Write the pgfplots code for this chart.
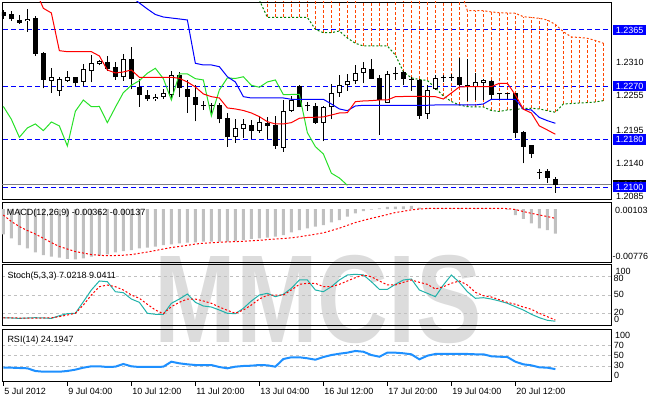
\documentclass[border=0pt]{standalone}
\usepackage{graphicx}
\usepackage{pgfplots}
\pgfplotsset{compat=1.18}
\usepackage{pgfplotstable}
\usepackage{fontspec}
\setmainfont{Liberation Sans}
\newcommand{\lbl}{\fontsize{9}{10}\selectfont}
\definecolor{mtsilver}{HTML}{C0C0C0}
\definecolor{mtsea}{HTML}{20B2AA}
\definecolor{mtdodger}{HTML}{1E90FF}
\definecolor{mtlime}{RGB}{40,225,40}
\definecolor{mtorange}{HTML}{FF4500}
\definecolor{mtgreen}{HTML}{008000}
\definecolor{mtblue}{HTML}{0000FF}
\definecolor{wmgray}{HTML}{DCDCDC}

\pgfplotstableread{
i O H L C
0 1.23954 1.23987 1.23836 1.23886
1 1.23920 1.23965 1.23807 1.23830
2 1.23819 1.23903 1.23751 1.23773
4 1.23847 1.23886 1.23217 1.23245
5 1.23262 1.23279 1.22667 1.22807
9 1.22852 1.22852 1.22706 1.22751
13 1.23110 1.23212 1.22954 1.22997
14 1.23021 1.23110 1.22807 1.22852
16 1.23156 1.23368 1.22650 1.22819
17 1.22684 1.22829 1.22356 1.22559
18 1.22549 1.22638 1.22458 1.22481
22 1.22896 1.22947 1.22525 1.22672
23 1.22660 1.22807 1.22255 1.22525
24 1.22525 1.22717 1.22110 1.22390
25 1.22377 1.22448 1.22301 1.22360
26 1.22377 1.22424 1.22245 1.22360
27 1.22380 1.22414 1.22076 1.22144
28 1.22166 1.22245 1.21682 1.21840
31 1.22053 1.22132 1.21817 1.21952
33 1.22076 1.22188 1.21807 1.22031
34 1.22053 1.22200 1.21648 1.21694
37 1.22706 1.22728 1.22346 1.22356
38 1.22377 1.22436 1.22289 1.22360
39 1.22368 1.22414 1.22065 1.22087
46 1.22987 1.23156 1.22819 1.22829
47 1.22835 1.22886 1.21884 1.22469
49 1.22925 1.23021 1.22807 1.22903
50 1.22947 1.22964 1.22717 1.22829
51 1.22829 1.22862 1.22626 1.22807
52 1.22807 1.22829 1.22154 1.22200
55 1.22849 1.22886 1.22773 1.22832
56 1.22861 1.22908 1.22795 1.22844
57 1.22852 1.23178 1.22706 1.22717
58 1.22717 1.23166 1.22458 1.22684
61 1.22795 1.22807 1.22469 1.22559
62 1.22579 1.22593 1.22469 1.22562
63 1.22579 1.22593 1.22469 1.22562
64 1.22587 1.22593 1.21829 1.21918
65 1.21930 1.21942 1.21402 1.21682
66 1.21705 1.21705 1.21491 1.21559
67 1.21252 1.21311 1.21142 1.21235
68 1.21267 1.21301 1.21065 1.21154
69 1.21132 1.21176 1.20906 1.21031
}\bears

\pgfplotstableread{
i O H L C
3 1.23797 1.23999 1.23621 1.23836
6 1.22795 1.23004 1.22593 1.22852
7 1.22626 1.22862 1.22542 1.22819
8 1.22795 1.22959 1.22778 1.22852
10 1.22773 1.23072 1.22706 1.22987
11 1.22954 1.23228 1.22768 1.23088
12 1.23072 1.23144 1.23055 1.23122
15 1.22852 1.23245 1.22795 1.23156
19 1.22481 1.22571 1.22448 1.22525
20 1.22525 1.22660 1.22491 1.22582
21 1.22549 1.22959 1.22469 1.22886
29 1.21840 1.22144 1.21749 1.21997
30 1.21985 1.22154 1.21829 1.22065
32 1.21942 1.22200 1.21918 1.22098
35 1.21660 1.22469 1.21592 1.22279
36 1.22289 1.22537 1.22267 1.22469
40 1.22087 1.22368 1.21773 1.22346
41 1.22346 1.22739 1.22144 1.22593
42 1.22582 1.22886 1.22525 1.22717
43 1.22717 1.22908 1.22626 1.22795
44 1.22785 1.23065 1.22739 1.22920
45 1.22930 1.23110 1.22751 1.23004
48 1.22424 1.22964 1.22424 1.22908
53 1.22233 1.22717 1.22154 1.22638
54 1.22650 1.22896 1.22638 1.22841
59 1.22684 1.22930 1.22469 1.22773
60 1.22761 1.22829 1.22469 1.22807
}\bulls

\pgfplotstableread{
i v
4 1.24325
5 1.24016
6 1.23937
7 1.23301
8 1.23284
9 1.23284
10 1.23284
11 1.23284
12 1.23212
13 1.22975
14 1.22925
15 1.22942
16 1.22975
17 1.22852
18 1.22852
19 1.22852
20 1.22852
21 1.22852
22 1.22835
23 1.22773
24 1.22689
25 1.22571
26 1.22525
27 1.22503
28 1.22335
29 1.22318
30 1.22292
31 1.22250
32 1.22188
33 1.22103
34 1.22065
35 1.22065
36 1.22087
37 1.22161
38 1.22174
39 1.22178
40 1.22183
41 1.22216
42 1.22250
43 1.22255
44 1.22441
45 1.22453
46 1.22458
47 1.22469
48 1.22469
49 1.22525
50 1.22528
51 1.22528
52 1.22528
53 1.22528
54 1.22525
55 1.22486
56 1.22587
57 1.22689
58 1.22694
59 1.22694
60 1.22694
61 1.22694
62 1.22751
63 1.22751
64 1.22554
65 1.22313
66 1.22250
67 1.22031
68 1.21963
69 1.21891
}\tenkan

\pgfplotstableread{
i v
16 1.24207
17 1.24105
18 1.24004
19 1.23911
20 1.23869
21 1.23852
22 1.23836
23 1.23819
24 1.23088
25 1.23060
26 1.23060
27 1.23031
28 1.22862
29 1.22773
30 1.22525
31 1.22503
32 1.22503
33 1.22503
34 1.22503
35 1.22503
36 1.22481
37 1.22481
38 1.22481
39 1.22481
40 1.22481
41 1.22402
42 1.22318
43 1.22289
44 1.22368
45 1.22380
46 1.22380
47 1.22380
48 1.22380
49 1.22380
50 1.22380
51 1.22380
52 1.22380
53 1.22380
54 1.22385
55 1.22385
56 1.22385
57 1.22385
58 1.22385
59 1.22385
60 1.22402
61 1.22481
62 1.22481
63 1.22481
64 1.22481
65 1.22313
66 1.22301
67 1.22174
68 1.22120
69 1.22076
}\kijun

\pgfplotstableread{
i v
0 1.22360
1 1.22144
2 1.21840
3 1.21997
4 1.22065
5 1.21952
6 1.22098
7 1.22031
8 1.21694
9 1.22279
10 1.22469
11 1.22356
12 1.22360
13 1.22087
14 1.22346
15 1.22593
16 1.22717
17 1.22795
18 1.22920
19 1.23004
20 1.22829
21 1.22469
22 1.22908
23 1.22910
24 1.22829
25 1.22807
26 1.22200
27 1.22638
28 1.22841
29 1.22832
30 1.22861
31 1.22717
32 1.22684
33 1.22773
34 1.22807
35 1.22559
36 1.22562
37 1.22562
38 1.21918
39 1.21682
40 1.21559
41 1.21235
42 1.21154
43 1.21031
}\chikou

\pgfplotstableread{
i lo hi
32 1.24156 1.24300
33 1.23861 1.24300
34 1.23861 1.24300
35 1.23861 1.24300
36 1.23861 1.24300
37 1.23861 1.24300
38 1.23861 1.24300
39 1.23662 1.24300
40 1.23604 1.24300
41 1.23604 1.24300
42 1.23633 1.24300
43 1.23515 1.24300
44 1.23426 1.24300
45 1.23380 1.24300
46 1.23380 1.24300
47 1.23380 1.24300
48 1.23380 1.24300
49 1.23228 1.24300
50 1.22947 1.24300
51 1.22841 1.24300
52 1.22815 1.24300
53 1.22798 1.24300
54 1.22672 1.24300
55 1.22537 1.24300
56 1.22444 1.24300
57 1.22385 1.24392
58 1.22356 1.23976
59 1.22351 1.23976
60 1.22351 1.23976
61 1.22292 1.23954
62 1.22275 1.23942
63 1.22301 1.23937
64 1.22309 1.23932
65 1.22326 1.23874
66 1.22330 1.23861
67 1.22318 1.23847
68 1.22289 1.23819
69 1.22262 1.23743
70 1.22402 1.23621
71 1.22410 1.23532
72 1.22419 1.23524
73 1.22424 1.23510
74 1.22436 1.23473
75 1.22458 1.23426
}\cloud

\pgfplotstableread{
i m s
0 -0.00371 -0.00088
1 -0.00429 -0.00183
2 -0.00527 -0.00256
3 -0.00576 -0.00315
4 -0.00634 -0.00366
5 -0.00674 -0.00429
6 -0.00699 -0.00491
7 -0.00713 -0.00549
8 -0.00732 -0.00586
9 -0.00737 -0.00623
10 -0.00722 -0.00645
11 -0.00699 -0.00667
12 -0.00684 -0.00678
13 -0.00664 -0.00684
14 -0.00634 -0.00681
15 -0.00615 -0.00677
16 -0.00601 -0.00667
17 -0.00576 -0.00649
18 -0.00567 -0.00630
19 -0.00552 -0.00608
20 -0.00527 -0.00586
21 -0.00517 -0.00564
22 -0.00502 -0.00549
23 -0.00494 -0.00532
24 -0.00488 -0.00513
25 -0.00479 -0.00501
26 -0.00479 -0.00494
27 -0.00479 -0.00486
28 -0.00479 -0.00482
29 -0.00469 -0.00478
30 -0.00454 -0.00472
31 -0.00439 -0.00466
32 -0.00429 -0.00459
33 -0.00420 -0.00448
34 -0.00406 -0.00439
35 -0.00381 -0.00432
36 -0.00341 -0.00422
37 -0.00308 -0.00407
38 -0.00283 -0.00388
39 -0.00259 -0.00369
40 -0.00234 -0.00349
41 -0.00195 -0.00315
42 -0.00161 -0.00281
43 -0.00113 -0.00239
44 -0.00063 -0.00198
45 -0.00030 -0.00166
46 -0.00010 -0.00136
47 0.00010 -0.00110
48 0.00030 -0.00081
49 0.00035 -0.00051
50 0.00040 -0.00034
51 0.00045 -0.00012
52 0.00020 0.00000
53 0.00010 0.00009
54 0.00008 0.00010
55 0.00008 0.00010
56 0.00010 0.00010
57 0.00012 0.00010
58 0.00010 0.00010
59 0.00008 0.00010
60 0.00008 0.00010
61 0.00005 0.00010
62 0.00002 0.00010
63 -0.00010 0.00007
64 -0.00088 -0.00007
65 -0.00146 -0.00037
66 -0.00210 -0.00063
67 -0.00283 -0.00088
68 -0.00308 -0.00110
69 -0.00362 -0.00137
}\macd

\pgfplotstableread{
i k d
0 12.8 12.5
1 12.3 12.5
2 11.7 12.3
3 12.3 12.2
4 12.8 12.3
5 12.3 12.3
6 11.7 12.5
7 16.1 14.5
8 19.4 17.2
9 20.0 20.0
10 39.0 33.6
11 58.2 50.0
12 73.0 63.6
13 71.8 66.4
14 55.4 63.6
15 53.8 58.2
16 43.4 50.0
17 38.0 44.6
18 20.0 34.8
19 18.4 25.4
20 18.4 19.4
21 36.4 30.8
22 43.4 38.0
23 51.6 43.4
24 38.0 43.4
25 32.0 40.2
26 30.3 36.4
27 25.4 30.3
28 20.0 24.9
29 19.4 20.0
30 28.2 25.4
31 40.2 33.6
32 50.0 43.4
33 52.8 50.0
34 47.2 50.0
35 51.1 50.0
36 61.0 58.2
37 74.6 67.5
38 74.6 69.2
39 58.2 69.2
40 55.4 63.6
41 63.6 63.6
42 74.6 67.5
43 82.8 73.0
44 83.9 78.4
45 83.0 82.8
46 71.8 80.0
47 59.3 73.0
48 59.3 66.4
49 67.5 66.4
50 74.6 70.8
51 76.2 74.6
52 58.2 70.8
53 52.8 67.5
54 47.2 59.8
55 66.4 63.6
56 82.8 69.2
57 70.8 73.0
58 55.4 66.4
59 44.6 54.4
60 45.6 48.9
61 43.4 46.7
62 40.2 42.3
63 36.4 38.0
64 30.8 34.8
65 25.4 30.3
66 18.4 26.6
67 12.8 20.0
68 8.5 14.4
69 7.0218 9.0411
}\stoch

\pgfplotstableread{
i r
0 26.9
1 26.9
2 26.3
3 25.7
4 20.6
5 19.2
6 19.2
7 19.2
8 20.6
9 23.1
10 26.9
11 29.5
12 29.5
13 28.2
14 28.8
15 33.9
16 29.5
17 28.2
18 28.2
19 28.2
20 28.8
21 38.3
22 35.2
23 33.3
24 32.0
25 32.0
26 32.0
27 28.2
28 25.7
29 28.8
30 30.1
31 30.7
32 32.0
33 31.4
34 28.8
35 43.4
36 46.7
37 46.7
38 44.8
39 42.1
40 47.2
41 51.0
42 53.5
43 55.5
44 58.7
45 57.3
46 51.0
47 47.8
48 55.5
49 55.5
50 54.3
51 52.4
52 42.8
53 49.7
54 53.0
55 53.0
56 53.0
57 53.0
58 53.0
59 52.4
60 52.4
61 48.6
62 47.8
63 47.2
64 38.3
65 33.3
66 31.4
67 27.6
68 26.9
69 24.1947
}\rsi

\pgfplotsset{
  mtpanel/.style={
    scale only axis, anchor=north west, width=609pt,
    xmin=-0.17, xmax=75.955,
    axis line style={line width=0.8pt},
    scaled ticks=false,
    xtick=\empty,
  },
}

\begin{document}
\begin{tikzpicture}
\useasboundingbox (0pt,0pt) rectangle (650pt,400pt);
% watermark text
\node[text=wmgray, font=\fontsize{125}{125}\selectfont\bfseries, anchor=base, inner sep=0pt] at (318pt,58pt) {\scalebox{0.785}[1]{MMCIS}};
% current price box (partly hidden)
\node[fill=black, text=white, inner xsep=3pt, inner ysep=2pt, anchor=west, font=\lbl] at (612.7pt,215pt) {1.2103};

% ---------------- main panel ----------------
\begin{axis}[mtpanel,
  at={(2pt,398pt)}, height=197pt,
  ymin=1.20799, ymax=1.24122,
  ytick={1.2085,1.2140,1.2195,1.2255,1.2310},
  yticklabels={1.2085,1.2140,1.2195,1.2255,1.2310},
  yticklabel pos=right,
  major tick length=0pt,
  grid=none,
  yticklabel style={anchor=west, inner sep=0pt, xshift=5pt, font=\lbl},
  extra y ticks={1.2100,1.2180,1.2270,1.2365},
  extra y tick labels={1.2100,1.2180,1.2270,1.2365},
  extra y tick style={grid=none,
     yticklabel style={fill=mtblue, text=white, inner xsep=3pt, inner ysep=2pt, xshift=-3.3pt}},
]
% horizontal levels
\addplot[mtblue, line width=1pt, dash pattern=on 5pt off 3pt, forget plot] coordinates {(-1,1.2365) (77,1.2365)};
\addplot[mtblue, line width=1pt, dash pattern=on 5pt off 3pt, forget plot] coordinates {(-1,1.2270) (77,1.2270)};
\addplot[mtblue, line width=1pt, dash pattern=on 5pt off 3pt, forget plot] coordinates {(-1,1.2180) (77,1.2180)};
\addplot[mtblue, line width=1pt, dash pattern=on 5pt off 3pt, forget plot] coordinates {(-1,1.2100) (77,1.2100)};
% cloud verticals (quiver segments from lower to upper span)
\addplot[mtorange, line width=1pt, dash pattern=on 3pt off 2pt, forget plot,
  quiver={u=0, v=\thisrow{hi}-\thisrow{lo}}]
  table[x=i, y=lo] {\cloud};
\addplot[mtorange, line width=1pt, dash pattern=on 2pt off 2pt, restrict x to domain=57:75] table[x=i, y=hi] {\cloud};
\addplot[mtgreen, line width=1pt, dash pattern=on 2pt off 2pt] table[x=i, y=lo] {\cloud};
% bid line
\addplot[gray, line width=1pt] coordinates {(-1,1.21036) (77,1.21036)};
% wicks
\addplot[draw=none, mark=none, error bars/.cd, y dir=plus, y explicit, error mark=none,
  error bar style={draw=black, solid, line width=1pt}]
  table[x=i, y=L, y error expr=\thisrow{H}-\thisrow{L}] {\bears};
\addplot[draw=none, mark=none, error bars/.cd, y dir=plus, y explicit, error mark=none,
  error bar style={draw=black, solid, line width=1pt}]
  table[x=i, y=L, y error expr=\thisrow{H}-\thisrow{L}] {\bulls};
% bodies
\addplot[draw=none, mark=none, error bars/.cd, y dir=plus, y explicit, error mark=none,
  error bar style={draw=black, solid, line width=5pt}]
  table[x=i, y=C, y error expr={max(\thisrow{O}-\thisrow{C},0.00017)}] {\bears};
\addplot[draw=none, mark=none, error bars/.cd, y dir=plus, y explicit, error mark=none,
  error bar style={draw=black, solid, line width=5pt}]
  table[x=i, y=O, y error expr=\thisrow{C}-\thisrow{O}] {\bulls};
\addplot[draw=none, mark=none, error bars/.cd, y dir=plus, y explicit, error mark=none,
  error bar style={draw=white, solid, line width=3pt}]
  table[x=i, y expr=\thisrow{O}+0.00017, y error expr={max(\thisrow{C}-\thisrow{O}-0.00034,0)}] {\bulls};
% ichimoku lines
\addplot[mtlime, line width=1pt] table[x=i, y=v] {\chikou};
\addplot[mtblue, line width=1pt] table[x=i, y=v] {\kijun};
\addplot[red, line width=1pt] table[x=i, y=v] {\tenkan};
\end{axis}

% ---------------- MACD ----------------
\begin{axis}[mtpanel, at={(2pt,198pt)}, height=60pt,
  ymin=-0.00776, ymax=0.00103, ytick=\empty]
\addplot[ybar, bar width=3pt, fill=mtsilver, draw=none] table[x=i, y=m] {\macd};
\addplot[red, line width=1pt, dash pattern=on 2pt off 2pt] table[x=i, y=s] {\macd};
\end{axis}

% ---------------- Stochastic ----------------
\begin{axis}[mtpanel, at={(2pt,135.5pt)}, height=61pt,
  ymin=0, ymax=100, ytick={20,50,80}, yticklabels={}, ytick style={draw=none},
  ymajorgrids, major grid style={mtsilver, line width=1pt, dash pattern=on 3pt off 3pt}]
\addplot[mtsea, line width=1pt] table[x=i, y=k] {\stoch};
\addplot[red, line width=1pt, dash pattern=on 2pt off 2pt] table[x=i, y=d] {\stoch};
\end{axis}

% ---------------- RSI ----------------
\begin{axis}[mtpanel, at={(2pt,70.7pt)}, height=52.5pt,
  ymin=0, ymax=100, ytick={30,50,70}, yticklabels={}, ytick style={draw=none},
  ymajorgrids, major grid style={mtsilver, line width=1pt, dash pattern=on 3pt off 3pt},
  xtick={0,8,16,24,32,40,48,56,64},
  xticklabels={5 Jul 2012,9 Jul 04:00,10 Jul 12:00,11 Jul 20:00,13 Jul 04:00,16 Jul 12:00,17 Jul 20:00,19 Jul 04:00,20 Jul 12:00},
  xtick pos=bottom, tick align=outside,
  xtick style={draw=black, line width=0.8pt},
  major tick length=4pt,
  xticklabel style={anchor=north west, inner sep=0pt, xshift=0.8pt, yshift=-1.5pt, font=\lbl}]
\addplot[mtdodger, line width=2pt] table[x=i, y=r] {\rsi};
\end{axis}

% panel titles
\node[anchor=base west, inner sep=0pt, font=\lbl] at (6.7pt,184.5pt) {MACD(12,26,9) -0.00362 -0.00137};
\node[anchor=base west, inner sep=0pt, font=\lbl] at (7.3pt,121.7pt) {Stoch(5,3,3) 7.0218 9.0411};
\node[anchor=base west, inner sep=0pt, font=\lbl] at (7.3pt,57.7pt) {RSI(14) 24.1947};
% right scale labels of the indicator windows
\node[anchor=base west, inner sep=0pt, font=\lbl] at (615pt,186.7pt) {0.00103};
\node[anchor=base west, inner sep=0pt, font=\lbl] at (612.3pt,141pt) {-0.00776};
\node[anchor=base west, inner sep=0pt, font=\lbl] at (615.5pt,125.7pt) {100};
\node[anchor=base west, inner sep=0pt, font=\lbl] at (613.5pt,119pt) {80};
\node[anchor=base west, inner sep=0pt, font=\lbl] at (613.7pt,102.3pt) {50};
\node[anchor=base west, inner sep=0pt, font=\lbl] at (613.7pt,85pt) {20};
\node[anchor=base west, inner sep=0pt, font=\lbl] at (614pt,77.7pt) {0};
\node[anchor=base west, inner sep=0pt, font=\lbl] at (615pt,61.7pt) {100};
\node[anchor=base west, inner sep=0pt, font=\lbl] at (613.7pt,51.7pt) {70};
\node[anchor=base west, inner sep=0pt, font=\lbl] at (613.7pt,41.7pt) {50};
\node[anchor=base west, inner sep=0pt, font=\lbl] at (613.7pt,31.7pt) {30};
\node[anchor=base west, inner sep=0pt, font=\lbl] at (614pt,21.7pt) {0};
\end{tikzpicture}
\end{document}
